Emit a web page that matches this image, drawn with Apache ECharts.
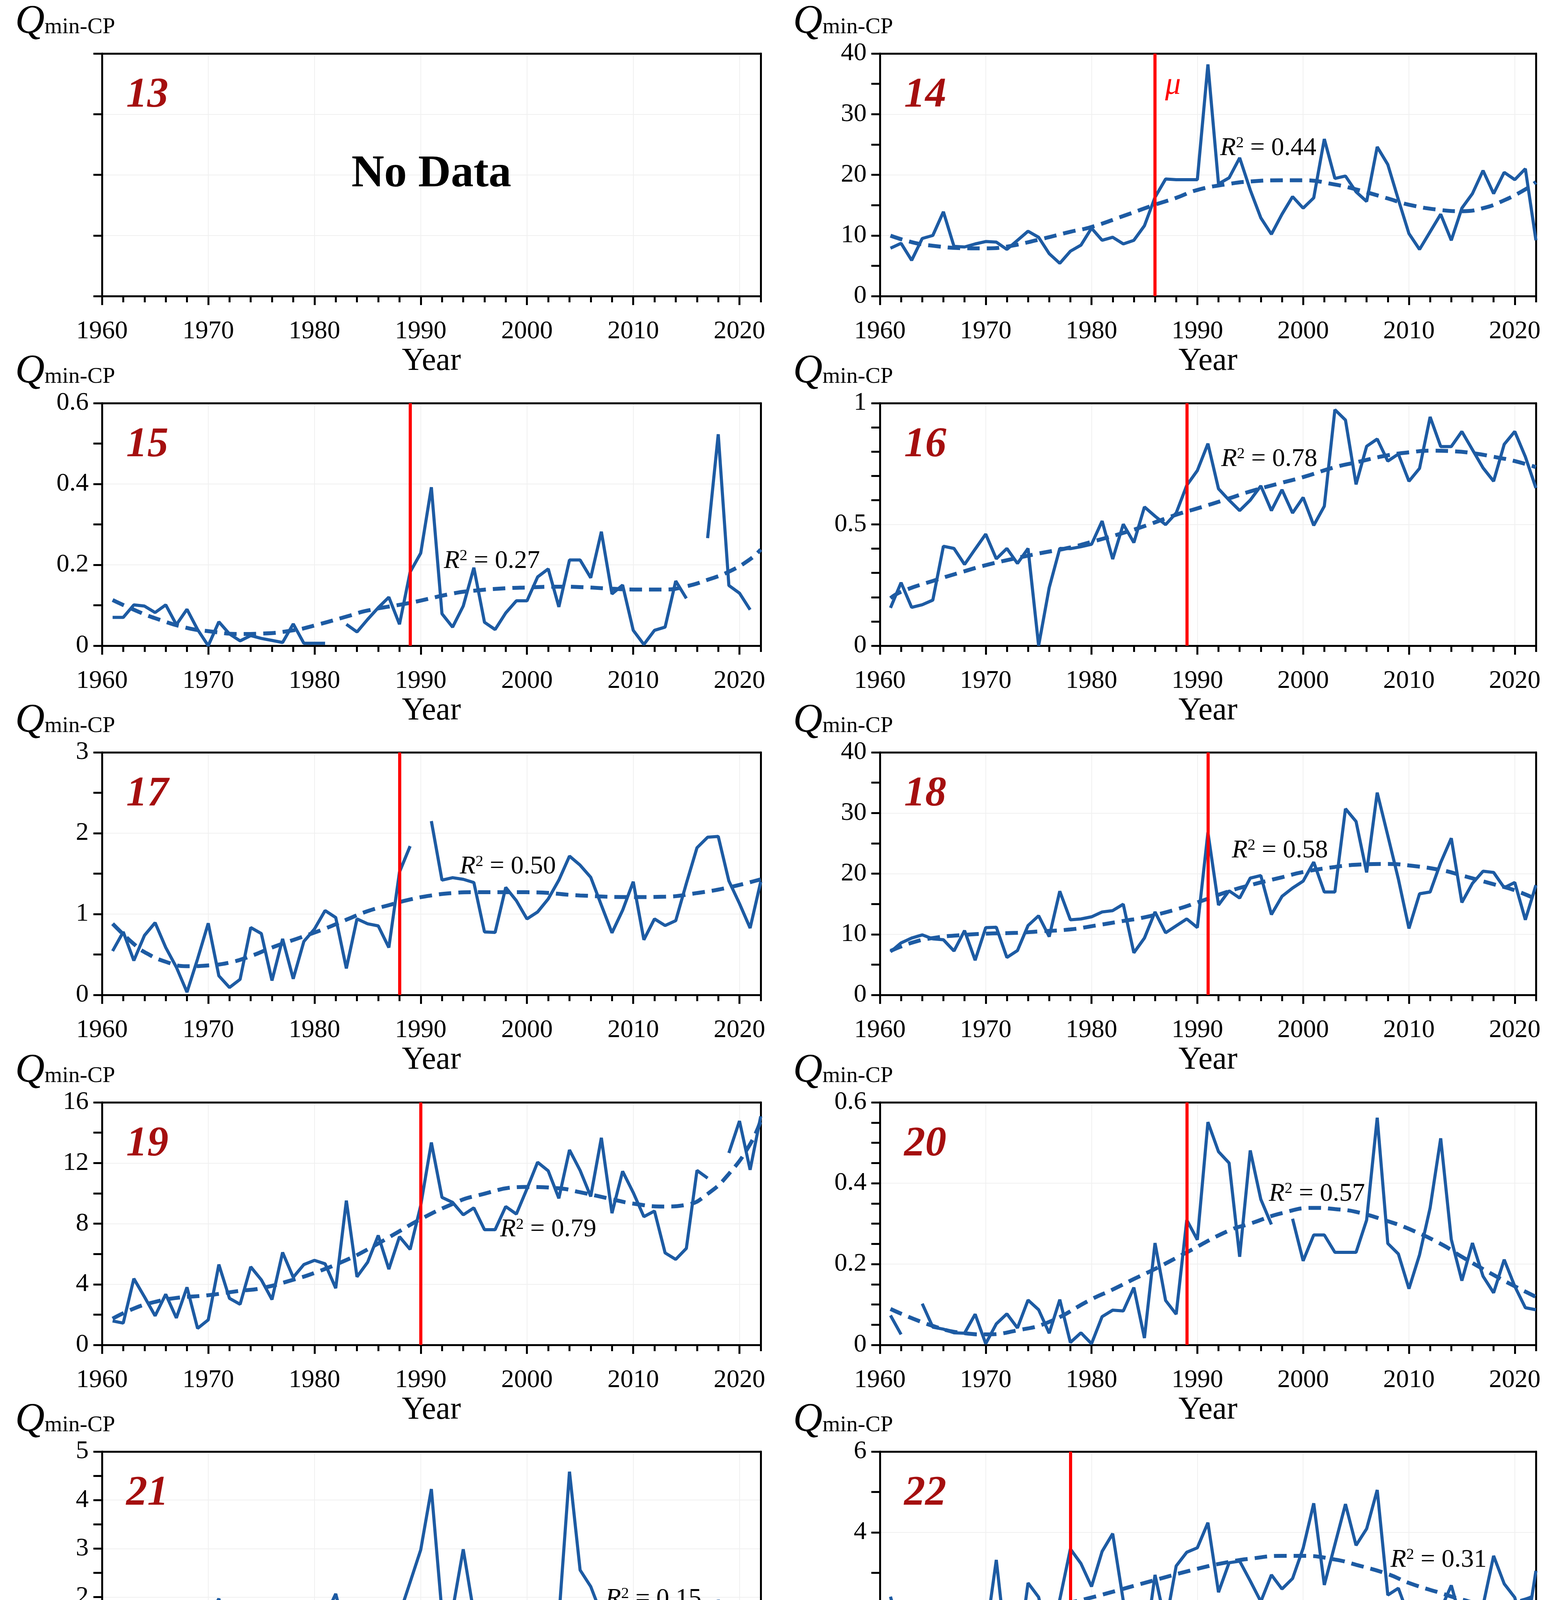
<!DOCTYPE html>
<html>
<head>
<meta charset="utf-8">
<title>Qmin-CP</title>
<script src="https://cdn.jsdelivr.net/npm/echarts@6/dist/echarts.min.js"></script>
<style>
  html, body { margin: 0; padding: 0; background: #fff; }
  #main { width: 3967px; height: 4583px; }
</style>
</head>
<body>
<div id="main"></div>
<script>
// years of record
var years = [1961,1962,1963,1964,1965,1966,1967,1968,1969,1970,
             1971,1972,1973,1974,1975,1976,1977,1978,1979,1980,
             1981,1982,1983,1984,1985,1986,1987,1988,1989,1990,
             1991,1992,1993,1994,1995,1996,1997,1998,1999,2000,
             2001,2002,2003,2004,2005,2006,2007,2008,2009,2010,
             2011,2012,2013,2014,2015,2016,2017,2018,2019,2020,
             2021,2022];

// observed Qmin-CP per station ('-' = missing)
var q14 = [7.9,8.7,5.9,9.5,10.0,13.9,8.2,8.1,8.6,9.0,
           8.9,7.7,9.2,10.7,9.7,7.0,5.4,7.4,8.4,11.2,
           9.2,9.7,8.6,9.2,11.6,16.3,19.3,19.2,19.2,19.2,
           38.2,18.5,19.5,22.8,17.5,12.9,10.2,13.5,16.4,14.5,
           16.2,25.9,19.4,19.8,17.2,15.6,24.6,21.7,15.9,10.3,
           7.7,10.6,13.5,9.2,14.5,16.9,20.7,16.9,20.4,19.2,
           21.0,9.2];
var q15 = [0.070,0.070,0.101,0.098,0.082,0.101,0.052,0.090,0.040,0.0,
           0.059,0.029,0.012,0.025,0.018,0.013,0.008,0.054,0.006,0.006,
           0.006,'-',0.053,0.034,0.065,0.094,0.120,0.053,0.182,0.229,
           0.392,0.079,0.046,0.098,0.193,0.058,0.040,0.081,0.111,0.111,
           0.170,0.190,0.096,0.212,0.212,0.168,0.282,0.128,0.150,0.038,
           0.003,0.038,0.046,0.160,0.117,'-',0.266,0.523,0.149,0.130,
           0.089,'-'];
var q16 = [0.156,0.260,0.158,0.169,0.188,0.410,0.401,0.335,0.398,0.460,
           0.358,0.401,0.339,0.401,0.0,0.239,0.401,0.400,0.408,0.418,
           0.514,0.357,0.501,0.425,0.572,0.534,0.499,0.547,0.661,0.722,
           0.833,0.647,0.600,0.557,0.600,0.659,0.557,0.643,0.547,0.611,
           0.496,0.575,0.973,0.930,0.665,0.822,0.852,0.761,0.790,0.678,
           0.731,0.943,0.821,0.821,0.883,0.808,0.733,0.678,0.830,0.883,
           0.779,0.650];
var q17 = [0.543,0.779,0.425,0.736,0.893,0.586,0.343,0.034,0.446,0.886,
           0.236,0.092,0.193,0.833,0.758,0.178,0.693,0.200,0.661,0.815,
           1.043,0.957,0.328,0.940,0.880,0.854,0.586,1.52,1.84,'-',
           2.15,1.42,1.45,1.43,1.39,0.779,0.773,1.33,1.165,0.940,
           1.026,1.187,1.42,1.717,1.605,1.455,1.11,0.768,1.047,1.40,
           0.682,0.940,0.858,0.918,1.38,1.82,1.95,1.96,1.41,1.13,
           0.827,1.40];
var q18 = [7.1,8.58,9.38,9.9,9.24,9.1,7.24,10.6,5.72,11.1,
           11.16,6.18,7.32,11.44,13.05,9.61,17.1,12.39,12.53,12.88,
           13.68,13.9,14.96,6.95,9.38,13.68,10.24,11.39,12.53,11.1,
           26.8,14.82,17.17,15.97,19.26,19.68,13.25,16.25,17.62,18.77,
           21.9,16.97,16.97,30.7,28.6,20.2,33.36,26.27,19.1,10.96,
           16.68,16.97,21.83,25.84,15.25,18.4,20.4,20.2,17.68,18.54,
           12.39,18.1];
var q19 = [1.58,1.44,4.37,3.17,1.92,3.34,1.78,3.8,1.09,1.65,
           5.3,3.07,2.68,5.15,4.29,2.99,6.1,4.46,5.3,5.58,
           5.35,3.74,9.52,4.49,5.45,7.22,5.0,7.14,6.3,9.2,
           13.35,9.73,9.4,8.58,9.04,7.6,7.6,9.13,8.63,10.3,
           12.05,11.48,9.67,12.86,11.51,9.79,13.66,8.69,11.45,10.05,
           8.46,8.83,6.07,5.64,6.37,11.51,11.0,'-',12.66,14.77,
           11.55,15.08];
var q20 = [0.073,0.026,'-',0.102,0.044,0.039,0.030,0.029,0.076,0.003,
           0.052,0.077,0.042,0.111,0.087,0.029,0.112,0.006,0.030,0.003,
           0.070,0.086,0.084,0.142,0.017,0.252,0.110,0.076,0.309,0.260,
           0.551,0.478,0.450,0.218,0.481,0.360,0.298,'-',0.312,0.208,
           0.272,0.272,0.229,0.229,0.229,0.309,0.562,0.251,0.225,0.139,
           0.223,0.339,0.511,0.261,0.159,0.252,0.170,0.129,0.211,0.145,
           0.092,0.087];
var q21 = [0.876,0.930,1.377,1.449,0.973,0.715,0.554,1.090,0.994,1.556,
           1.967,0.966,0.769,1.520,1.109,0.672,1.341,1.413,1.424,1.484,
           1.592,2.067,1.209,1.531,1.137,1.144,0.930,1.645,2.307,2.976,
           4.227,1.681,1.735,2.986,1.663,0.876,0.554,1.073,1.388,0.572,
           0.615,1.341,1.574,4.585,2.557,2.217,1.645,1.127,0.959,0.959,
           0.930,0.715,0.830,1.796,0.876,1.002,0.912,1.939,1.413,1.073,
           0.554,0.994];
var q22 = [2.41,1.44,2.06,1.71,1.67,1.69,1.96,2.28,1.74,1.44,
           3.32,0.98,0.83,2.75,2.40,1.28,2.34,3.59,3.23,2.66,
           3.53,3.97,2.31,1.45,1.05,2.95,1.73,3.17,3.51,3.62,
           4.24,2.52,3.25,3.29,2.80,2.29,2.95,2.60,2.86,3.61,
           4.72,2.70,3.70,4.70,3.68,4.09,5.05,2.45,2.62,1.90,
           2.27,1.74,2.09,2.69,1.76,1.56,2.19,3.42,2.73,2.39,
           1.38,3.05];

// fitted trend curves
var t14x = [1961,1963,1965,1968,1970,1972,1975,1978,1980,1983,1986,1988,1990,1993,1995,1998,2000,2003,2005,2008,2010,2013,2015,2017,2019,2021,2022];
var t14y = [9.97,8.9,8.3,7.9,7.87,8.16,9.3,10.6,11.4,13.2,15.07,16.2,17.5,18.5,18.9,19.1,19.1,18.4,17.6,16.1,15.07,14.2,14.0,14.5,15.8,17.6,18.8];
var t15x = [1961,1963,1965,1968,1970,1973,1975,1978,1980,1983,1985,1989,1993,1995,1998,2000,2003,2005,2008,2010,2013,2015,2017,2019,2021,2022];
var t15y = [0.113,0.089,0.068,0.044,0.036,0.029,0.030,0.038,0.050,0.072,0.087,0.106,0.129,0.136,0.142,0.144,0.146,0.145,0.141,0.139,0.139,0.147,0.163,0.183,0.214,0.238];
var t16x = [1961,1962,1965,1968,1970,1973,1975,1978,1980,1983,1985,1988,1990,1993,1995,1998,2000,2003,2005,2008,2010,2012,2014,2016,2018,2020,2022];
var t16y = [0.196,0.222,0.267,0.307,0.332,0.362,0.380,0.405,0.428,0.465,0.493,0.540,0.566,0.607,0.636,0.672,0.695,0.736,0.756,0.785,0.797,0.804,0.802,0.794,0.779,0.761,0.736];
var t17x = [1961,1962,1963,1964,1966,1968,1970,1972,1974,1976,1979,1981,1983,1985,1987,1989,1991,1993,1995,2000,2005,2010,2013,2016,2019,2022];
var t17y = [0.88,0.75,0.63,0.53,0.41,0.355,0.365,0.40,0.48,0.586,0.725,0.82,0.93,1.036,1.11,1.18,1.23,1.26,1.27,1.27,1.23,1.21,1.215,1.26,1.33,1.43];
var t18x = [1961,1963,1965,1968,1970,1973,1975,1978,1980,1983,1985,1988,1990,1993,1995,1998,2000,2003,2005,2008,2010,2013,2015,2018,2020,2022];
var t18y = [7.24,8.6,9.38,9.9,10.1,10.24,10.47,10.8,11.33,12.2,12.8,14.1,15.25,17.1,18.1,19.4,20.26,21.1,21.46,21.6,21.35,20.6,19.7,18.25,17.25,15.8];
var t19x = [1961,1963,1965,1967,1970,1973,1975,1978,1980,1983,1985,1988,1990,1993,1995,2000,2003,2005,2008,2010,2013,2015,2017,2019,2021,2022];
var t19y = [1.73,2.4,2.84,3.1,3.28,3.57,3.74,4.3,4.75,5.6,6.3,7.5,8.3,9.3,9.8,10.42,10.33,10.07,9.61,9.32,9.13,9.24,9.96,11.28,13.24,14.8];
var t20x = [1961,1965,1968,1970,1973,1976,1980,1982,1984,1986,1989,1993,1995,1998,2001,2003,2005,2008,2010,2013,2015,2018,2020,2022];
var t20y = [0.089,0.047,0.029,0.026,0.036,0.057,0.113,0.137,0.163,0.188,0.229,0.283,0.300,0.326,0.339,0.336,0.329,0.306,0.287,0.250,0.218,0.173,0.145,0.119];
var t21x = [1961,1963,1965,1967,1969,1971,1973,1975,1978,1980,1983,1985,1988,1990,1993,1996,2000,2003,2005,2008,2010,2013,2015,2018,2020,2022];
var t21y = [1.116,1.04,1.02,1.02,1.07,1.127,1.20,1.25,1.395,1.467,1.59,1.645,1.75,1.79,1.824,1.79,1.71,1.61,1.51,1.395,1.306,1.20,1.137,1.066,1.037,1.02];
var t22x = [1961,1965,1970,1975,1978,1980,1985,1990,1993,1995,1998,2000,2003,2005,2008,2010,2013,2015,2017,2019,2021,2022];
var t22y = [1.74,1.93,2.02,2.13,2.27,2.39,2.75,3.10,3.27,3.35,3.42,3.42,3.33,3.20,2.97,2.75,2.50,2.34,2.24,2.23,2.34,2.45];

// change-point years and R squared of the trend
var stationNames = ['13','14','15','16','17','18','19','20','21','22'];
var changeYears  = [null,1986,1989,1989,1988,1991,1990,1989,null,1978];
var r2Values     = [null,'0.44','0.27','0.78','0.50','0.58','0.79','0.57','0.15','0.31'];
var yMaxes       = [4,40,0.6,1,3,40,16,0.6,5,6];
var yMajors      = [1,10,0.2,0.5,1,10,4,0.2,1,2];
var yMinorSplits = [1,2,2,5,2,2,2,4,2,2];

var obsList = [null,q14,q15,q16,q17,q18,q19,q20,q21,q22];
var trendX  = [null,t14x,t15x,t16x,t17x,t18x,t19x,t20x,t21x,t22x];
var trendY  = [null,t14y,t15y,t16y,t17y,t18y,t19y,t20y,t21y,t22y];

// where the R2 text sits (year, value)
var r2Pos = [null,[1996.7,24.4],[1996.7,0.209],[1996.8,0.769],[1998.2,1.584],
             [1997.8,23.8],[2002.0,7.6],[2001.3,0.373],[2011.9,1.96],[2012.8,3.32]];

// layout
var FONT = "'Liberation Serif', 'DejaVu Serif', serif";
var BLUE = '#1d5ba3';
var colLeft = [261, 2252];
var colWidth = [1686, 1679];
var rowTop = [137, 1032, 1926, 2822, 3716];
var gridH = 621;
var frame = { show: true, onZero: false, lineStyle: { color: '#000', width: 5 } };

var grids = [], xAxes = [], yAxes = [], series = [], graphics = [];

stationNames.forEach(function (name, i) {
	var row = Math.floor(i / 2), col = i % 2;
	var left = colLeft[col], top = rowTop[row], w = colWidth[col];

	grids.push({ left: left, top: top, width: w, height: gridH, show: false });

	// main year axis: labels, long ticks every 10 years
	xAxes.push({
		gridIndex: i, type: 'value', position: 'bottom',
		min: 1960, max: 2022, interval: 10,
		axisLine: frame,
		axisTick: { show: true, length: 23, lineStyle: { color: '#000', width: 5 } },
		axisLabel: { color: '#000', fontSize: 66, fontFamily: FONT, margin: 58, showMaxLabel: false,
			formatter: function (v) { return String(v); } },
		splitLine: { show: true, lineStyle: { color: '#f0f0f0', width: 2 } },
		name: 'Year', nameLocation: 'middle', nameGap: 126,
		nameTextStyle: { color: '#000', fontSize: 82, fontFamily: FONT }
	});
	// second year axis only for the 2-year ticks
	xAxes.push({
		gridIndex: i, type: 'value', position: 'bottom',
		min: 1960, max: 2022, interval: 2,
		axisLine: { show: false },
		axisTick: { show: true, length: 16, lineStyle: { color: '#000', width: 5 } },
		axisLabel: { show: false },
		splitLine: { show: false }
	});
	// top edge of the box
	xAxes.push({
		gridIndex: i, type: 'value', position: 'top', min: 1960, max: 2022,
		axisLine: frame, axisTick: { show: false }, axisLabel: { show: false }, splitLine: { show: false }
	});

	yAxes.push({
		gridIndex: i, type: 'value', position: 'left', min: 0, max: yMaxes[i], interval: yMajors[i],
		axisLine: frame,
		axisTick: { show: true, length: 22, lineStyle: { color: '#000', width: 5 } },
		minorTick: { show: yMinorSplits[i] > 1, splitNumber: yMinorSplits[i], length: 22,
			lineStyle: { color: '#000', width: 5 } },
		axisLabel: { show: obsList[i] !== null, color: '#000', fontSize: 66, fontFamily: FONT, margin: 34 },
		splitLine: { show: true, lineStyle: { color: '#f0f0f0', width: 2 } }
	});
	// right edge of the box
	yAxes.push({
		gridIndex: i, type: 'value', position: 'right', min: 0, max: yMaxes[i],
		axisLine: frame, axisTick: { show: false }, axisLabel: { show: false }, splitLine: { show: false }
	});

	// y axis title  Q min-CP
	graphics.push({
		type: 'text', x: left - 222, y: top - 80, z: 100,
		style: {
			text: '{q|Q}{s|min-CP}',
			verticalAlign: 'middle', textVerticalAlign: 'middle',
			rich: {
				q: { fontSize: 104, fontStyle: 'italic', fontFamily: FONT, fill: '#000', color: '#000' },
				s: { fontSize: 58, fontFamily: FONT, fill: '#000', color: '#000',
					verticalAlign: 'bottom', padding: [0, 0, 10, 0] }
			}
		}
	});
	// station number
	graphics.push({
		type: 'text', x: left + 62, y: top + 108, z: 100,
		style: {
			text: name, fontSize: 108, fontWeight: 'bold', fontStyle: 'italic',
			fontFamily: FONT, fill: '#a50f0f',
			verticalAlign: 'middle', textVerticalAlign: 'middle'
		}
	});

	if (obsList[i] === null) {
		graphics.push({
			type: 'text', x: left + w / 2, y: top + gridH / 2, z: 100,
			style: {
				text: 'No Data', fontSize: 116, fontWeight: 'bold', fontFamily: FONT, fill: '#000',
				align: 'center', textAlign: 'center',
				verticalAlign: 'middle', textVerticalAlign: 'middle'
			}
		});
		return;
	}

	var obs = obsList[i];
	series.push({
		type: 'line', xAxisIndex: 3 * i, yAxisIndex: 2 * i,
		data: years.map(function (y, k) { return [y, obs[k]]; }),
		symbol: 'none', connectNulls: false, z: 3,
		lineStyle: { color: BLUE, width: 8 },
		itemStyle: { color: BLUE }
	});

	var tx = trendX[i], ty = trendY[i];
	var marks = [{
		coord: r2Pos[i],
		label: {
			show: true, position: 'inside',
			formatter: '{i|R}{s|2}{n| = ' + r2Values[i] + '}',
			rich: {
				i: { fontSize: 66, fontStyle: 'italic', fontFamily: FONT, color: '#000' },
				s: { fontSize: 40, fontFamily: FONT, color: '#000', verticalAlign: 'top' },
				n: { fontSize: 66, fontFamily: FONT, color: '#000' }
			}
		}
	}];
	if (name === '14') {
		marks.push({
			coord: [1987.7, 34.7],
			label: { show: true, position: 'inside', formatter: 'μ', color: '#ff0000',
				fontSize: 80, fontStyle: 'italic', fontFamily: FONT }
		});
	}

	var trend = {
		type: 'line', xAxisIndex: 3 * i, yAxisIndex: 2 * i,
		data: tx.map(function (y, k) { return [y, ty[k]]; }),
		smooth: 0.5, symbol: 'none', z: 4,
		lineStyle: { color: BLUE, width: 10, type: [32, 18] },
		itemStyle: { color: BLUE },
		markPoint: {
			symbol: 'circle', symbolSize: 1, silent: true,
			itemStyle: { color: 'rgba(0,0,0,0)' },
			data: marks
		}
	};
	if (changeYears[i] !== null) {
		trend.markLine = {
			symbol: ['none', 'none'], silent: true,
			label: { show: false },
			lineStyle: { color: '#ff0000', width: 8, type: 'solid' },
			emphasis: { disabled: true },
			data: [{ xAxis: changeYears[i] }]
		};
	}
	series.push(trend);
});

var myChart = echarts.init(document.getElementById('main'));
var option = {
	animation: false,
	backgroundColor: '#fff',
	grid: grids,
	xAxis: xAxes,
	yAxis: yAxes,
	series: series,
	graphic: graphics
};
myChart.setOption(option);

window.addEventListener('resize', function () {
	myChart.resize();
});
</script>
</body>
</html>
